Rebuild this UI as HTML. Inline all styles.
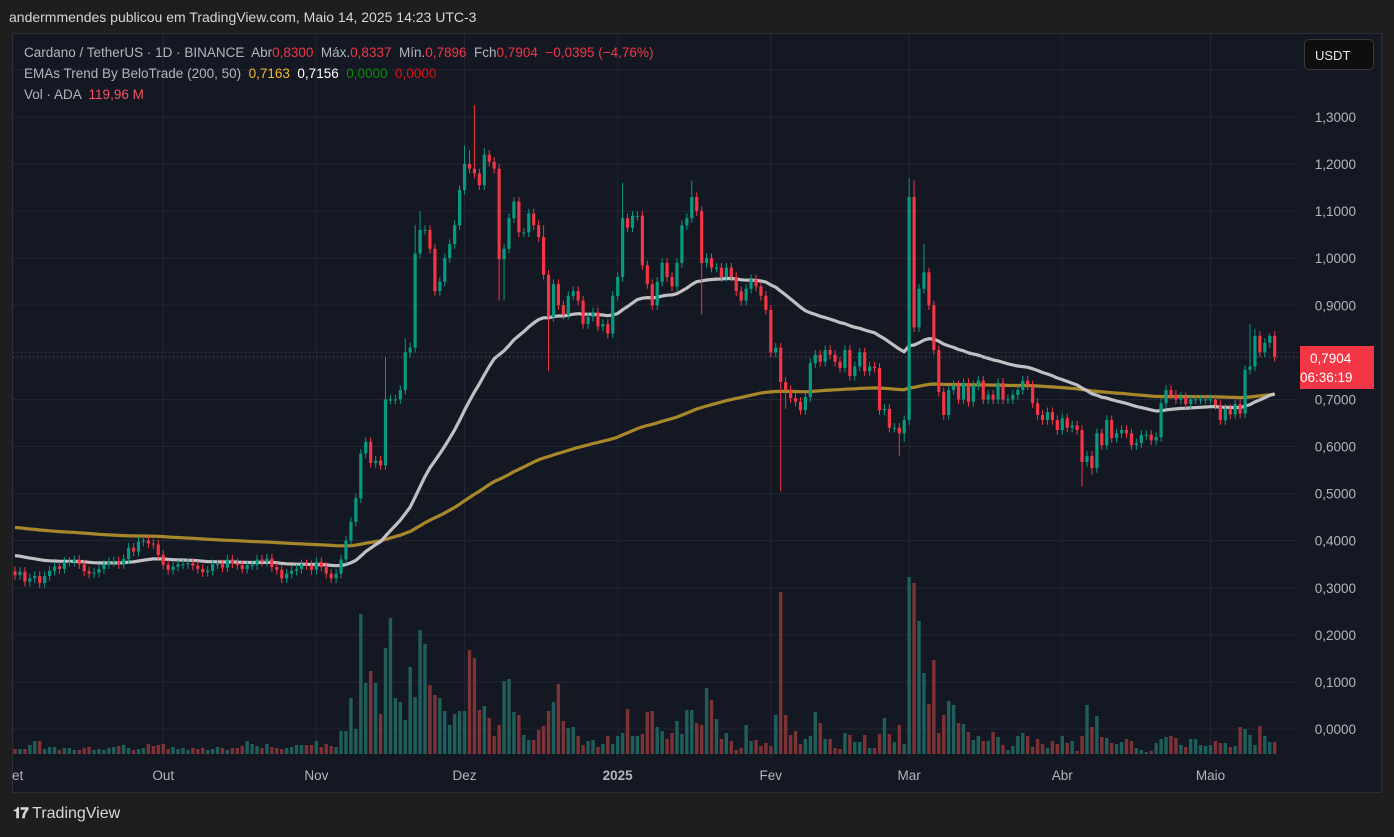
<!DOCTYPE html>
<html><head><meta charset="utf-8"><style>
html,body{margin:0;padding:0;background:#1e1e1e;width:1394px;height:837px;overflow:hidden;font-family:"Liberation Sans",sans-serif}
#hdr{position:absolute;left:9px;top:9px;font-size:14px;color:#d6d6d6}
#panel{position:absolute;left:12px;top:33px;width:1368px;height:758px;background:#141823;border:1px solid #2c2f36}
.leg{position:absolute;left:24px;font-size:13.5px;color:#b2b5be;white-space:pre}
.r{color:#f23645}
#usdt{position:absolute;left:1304px;top:39px;width:70px;height:31px;background:#0e0e0e;border:1px solid #3a3a3a;border-radius:5px;color:#e6e6e6;font-size:13px;line-height:31px;text-indent:10px;box-sizing:border-box}
#plabel{position:absolute;left:1300px;top:346px;width:74px;height:43px;background:#f23645;color:#fff;font-size:13.5px;line-height:19px;text-indent:10px;padding-top:3px;box-sizing:border-box}
#logo{position:absolute;left:13px;top:805px;color:#d8d8d8;font-size:16px;font-weight:bold}
</style></head><body>
<div id="hdr">andermmendes publicou em TradingView.com, Maio 14, 2025 14:23 UTC-3</div>
<div id="panel"></div>
<svg id="chart" width="1394" height="837" style="position:absolute;left:0;top:0">
<defs><clipPath id="clip"><rect x="13" y="34" width="1285" height="720"/></clipPath></defs>
<g id="grid"></g><g id="vol" clip-path="url(#clip)"></g><g id="ema" clip-path="url(#clip)"></g><g id="candles" clip-path="url(#clip)"></g><g id="yaxis"></g><g id="xaxis"></g>
<line x1="13" x2="1298" y1="357" y2="357" stroke="#f23645" stroke-width="1" stroke-dasharray="1,3"/>
</svg>
<div class="leg" style="top:45px">Cardano / TetherUS · 1D · BINANCE  Abr<span class="r">0,8300</span>  Máx.<span class="r">0,8337</span>  Mín.<span class="r">0,7896</span>  Fch<span class="r">0,7904</span>  <span class="r">−0,0395 (−4,76%)</span></div>
<div class="leg" style="top:66px">EMAs Trend By BeloTrade (200, 50)  <span style="color:#f0b929">0,7163</span>  <span style="color:#fff">0,7156</span>  <span style="color:#0a8a0a">0,0000</span>  <span style="color:#e01010">0,0000</span></div>
<div class="leg" style="top:87px">Vol · ADA  <span style="color:#f7525f">119,96 M</span></div>
<div id="usdt">USDT</div>
<div id="plabel">0,7904<br>06:36:19</div>
<div id="logo"><span style="font-size:15px;letter-spacing:-1px">𝟏𝟕</span> <span style="font-weight:normal;font-size:16px">TradingView</span></div>
<script>
const closes=[0.327,0.334,0.313,0.32,0.325,0.31,0.325,0.336,0.345,0.34,0.355,0.355,0.359,0.35,0.335,0.33,0.332,0.34,0.35,0.355,0.356,0.35,0.361,0.385,0.377,0.398,0.40,0.394,0.392,0.37,0.349,0.338,0.345,0.35,0.35,0.352,0.347,0.34,0.333,0.336,0.35,0.35,0.343,0.36,0.352,0.348,0.34,0.348,0.348,0.36,0.355,0.362,0.344,0.338,0.32,0.33,0.336,0.34,0.35,0.348,0.338,0.355,0.344,0.33,0.32,0.33,0.36,
0.40,0.44,0.49,0.585,0.61,0.565,0.57,0.56,0.70,0.70,0.70,0.72,0.80,0.81,1.01,1.06,1.06,1.02,0.93,0.95,1.0,1.03,1.07,1.145,
1.20,1.19,1.18,1.155,1.22,1.205,1.19,0.998,1.02,1.085,1.12,1.055,1.055,1.095,1.07,1.045,0.965,0.875,0.945,0.90,0.88,0.92,0.93,0.91,0.86,0.875,0.885,0.855,0.86,0.84,0.92,
0.96,1.085,1.065,1.09,1.09,0.985,0.945,0.90,0.95,0.99,0.96,0.94,0.99,1.07,1.085,1.13,1.10,0.99,1.0,0.98,0.98,0.96,0.98,0.96,0.93,0.91,0.935,0.955,0.94,0.92,0.89,
0.80,0.81,0.737,0.72,0.703,0.695,0.677,0.705,0.777,0.795,0.78,0.805,0.795,0.78,0.767,0.805,0.75,0.77,0.80,0.76,0.77,0.767,0.677,0.68,0.64,0.64,0.628,0.656,
1.13,0.853,0.935,0.97,0.90,0.805,0.716,0.667,0.72,0.73,0.70,0.735,0.695,0.73,0.74,0.70,0.71,0.70,0.735,0.70,0.70,0.71,0.72,0.74,0.73,0.692,0.667,0.656,0.673,0.656,0.635,
0.66,0.64,0.645,0.635,0.567,0.58,0.554,0.628,0.603,0.656,0.618,0.628,0.635,0.628,0.603,0.607,0.625,0.625,0.613,0.62,0.692,0.72,0.71,0.70,0.705,0.69,0.70,0.70,0.70,0.70,
0.70,0.688,0.656,0.68,0.668,0.69,0.67,0.763,0.77,0.835,0.80,0.82,0.835,0.79];
const firstOpen=0.335;
const highOverrides={75:0.79,79:0.83,81:1.07,82:1.10,91:1.24,92:1.23,93:1.325,95:1.235,98:1.20,107:1.07,123:1.16,137:1.165,138:1.14,181:1.17,182:1.165,184:1.03,250:0.86,251:0.85,254:0.84};
const lowOverrides={98:0.91,99:0.91,108:0.76,139:0.88,155:0.505,156:0.68,179:0.58,180:0.61,216:0.515,218:0.54};
const volumes=[9,9,9,13,17,17,9,11,11,8,10,10,8,8,10,11,8,9,8,10,11,12,13,10,8,9,10,14,12,13,14,9,11,9,10,8,10,9,10,8,9,11,10,8,10,10,12,17,14,12,10,14,11,10,9,10,11,13,
13,13,13,17,11,14,12,11,27,27,60,29,144,75,87,75,44,110,140,60,56,38,91,61,128,114,73,63,60,47,33,44,47,47,108,100,48,52,40,22,33,77,79,46,43,23,18,18,28,32,47,56,74,37,30,31,22,13,17,18,11,14,22,14,22,25,49,22,22,24,46,47,31,27,19,25,37,24,48,48,35,33,70,58,39,19,25,17,8,10,33,17,18,12,15,12,43,166,43,23,
27,14,19,22,46,35,19,19,10,9,25,23,16,16,23,10,10,24,40,24,16,33,14,181,175,137,85,54,98,25,43,57,53,35,34,26,18,22,17,17,26,21,13,8,12,22,25,22,11,19,14,10,17,14,22,15,17,7,22,53,31,42,21,20,15,14,16,19,17,10,8,6,7,15,19,21,22,20,13,11,19,19,13,12,13,17,15,15,11,12,31,29,23,13,32,22,16,16];
const priceTicks=[0,0.1,0.2,0.3,0.4,0.5,0.6,0.7,0.8,0.9,1.0,1.1,1.2,1.3,1.4];
const monthLabels=["et","Out","Nov","Dez","2025","Fev","Mar","Abr","Maio"];
const monthStartIdx=[-0.6,30,61,91,122,153,181,212,242];
const ema200Seed=0.429, ema50Seed=0.37;

const NS="http://www.w3.org/2000/svg";
const xOf=i=>15+i*4.94;
const yOf=v=>729-v*470.8;
const vyOf=v=>758-v;
function mk(tag,attrs,parent){const e=document.createElementNS(NS,tag);for(const k in attrs)e.setAttribute(k,attrs[k]);parent.appendChild(e);return e;}
const G=id=>document.getElementById(id);
priceTicks.forEach(t=>{
  const y=yOf(t);
  const l=mk('line',{x1:13,x2:1298,y1:y,y2:y,stroke:'#232632','stroke-width':1},G('grid'));
  
  
  if(t<1.35){
  const tx=mk('text',{x:1356,y:y+5,'text-anchor':'end','font-size':13.5,fill:'#b2b5be','font-family':'Liberation Sans, sans-serif'},G('yaxis'));
  tx.textContent=t.toFixed(4).replace('.',',');
  
  }
});
monthLabels.forEach((m,k)=>{
  const x=xOf(monthStartIdx[k]);
  if(k>0){const l=mk('line',{x1:x,x2:x,y1:34,y2:758,stroke:'#232632','stroke-width':1},G('grid'));
  
  }
  const tx=mk('text',{x:k==0?12:x,y:780,'text-anchor':k==0?'start':'middle','font-size':13.5,fill:'#b2b5be','font-weight':m=='2025'?'bold':'normal','font-family':'Liberation Sans, sans-serif'},G('xaxis'));
  tx.textContent=m;
  
  
});
closes.forEach((c,i)=>{
  const o=i==0?firstOpen:closes[i-1];
  const up=c>=o;
  const hi=highOverrides[i]!==undefined?highOverrides[i]:Math.max(o,c)+0.01;
  const lo=lowOverrides[i]!==undefined?lowOverrides[i]:Math.min(o,c)-0.01;
  const col=up?'#089981':'#f23645';
  const x=xOf(i);
  const vb=mk('rect',{x:x-1.7,y:vyOf(volumes[i]),width:3.4,height:volumes[i],fill:up?'#1f5f5b':'#7d3236'},G('vol'));
  
  
  const w=mk('line',{x1:x,x2:x,y1:yOf(hi),y2:yOf(lo),stroke:col,'stroke-width':1},G('candles'));
  
  
  const top=yOf(Math.max(o,c)),bh=Math.max(1,Math.abs(yOf(o)-yOf(c)));
  const b=mk('rect',{x:x-1.6,y:top,width:3.2,height:bh,fill:col},G('candles'));
  
  
});
function ema(n,seed){const a=2/(n+1);let e=seed;return closes.map(c=>(e=e+a*(c-e)));}
[[ema(200,ema200Seed),'#b08d2c','ema-200-line'],[ema(50,ema50Seed),'#c9c9cc','ema-50-line']].forEach(([arr,col,name])=>{
  const d=arr.map((v,i)=>(i?'L':'M')+xOf(i).toFixed(1)+' '+yOf(v).toFixed(1)).join(' ');
  const p=mk('path',{d:d,fill:'none',stroke:col,'stroke-width':3.2,'stroke-linejoin':'round','stroke-opacity':0.95},G('ema'));
  
  
});
</script>
</body></html>
